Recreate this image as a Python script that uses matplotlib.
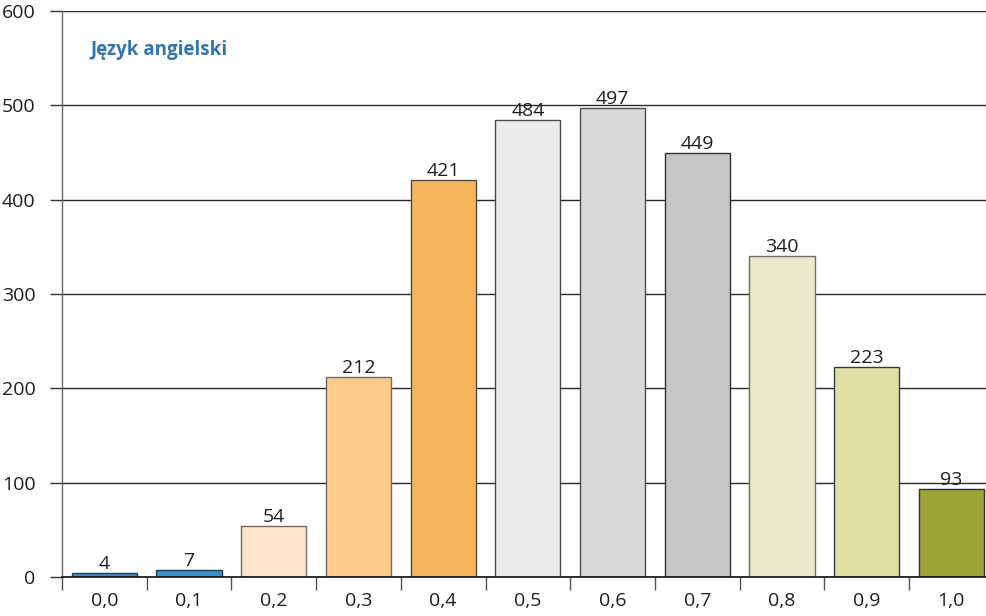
import matplotlib
matplotlib.use("Agg")
import matplotlib.pyplot as plt
from matplotlib.ticker import FixedLocator

categories = ["0,0", "0,1", "0,2", "0,3", "0,4", "0,5", "0,6", "0,7", "0,8", "0,9", "1,0"]
counts = [4, 7, 54, 212, 421, 484, 497, 449, 340, 223, 93]
bar_colors = ["#3a8ec9", "#3a8ec9", "#fde5c9", "#fbcb8c", "#f7b65d", "#eaecea",
              "#d8d9db", "#c5c6c8", "#e8e9ca", "#e0dfa6", "#9ba634"]
edge_colors = ["#1d3d5a", "#1d3d5a", "#6e6a64", "#6e6a64", "#4a4a4a", "#4a4a4a",
               "#4a4a4a", "#2e2e2e", "#6e6e6e", "#3a3a3a", "#2e2e2e"]
y_ticks = [0, 100, 200, 300, 400, 500, 600]
title = "Język angielski"

plt.rcParams["font.family"] = ["Open Sans", "DejaVu Sans"]

fig = plt.figure(figsize=(9.87, 6.16), dpi=100)
ax = fig.add_axes([62 / 987, 39 / 616, 931.7 / 987, 566 / 616])

x = list(range(len(categories)))
ax.bar(x, counts, width=0.77, color=bar_colors, edgecolor=edge_colors,
       linewidth=1.0, zorder=3)

for xi, v in zip(x, counts):
    ax.annotate(str(v), (xi, v), xytext=(0, 0), textcoords="offset points",
                ha="center", va="bottom", fontsize=14, color="#1e1e1e",
                zorder=4)

ax.set_xlim(-0.5, len(categories) - 0.5)
ax.set_ylim(0, 600)

ax.set_xticks(x)
ax.set_xticklabels(categories)
ax.xaxis.set_minor_locator(FixedLocator([i - 0.5 for i in range(len(categories) + 1)]))
ax.tick_params(axis="x", which="major", length=0, pad=11, labelsize=14,
               labelcolor="#1e1e1e")
ax.tick_params(axis="x", which="minor", length=9, width=1.0, color="#555555")

ax.set_yticks(y_ticks)
ax.tick_params(axis="y", length=9, width=1.0, color="#333333", pad=10,
               labelsize=14, labelcolor="#1e1e1e")

ax.yaxis.grid(True, color="#2a2a2a", linewidth=1.0, zorder=0)
ax.set_axisbelow(True)

for side in ("top", "right"):
    ax.spines[side].set_visible(False)
ax.spines["left"].set_color("#666666")
ax.spines["left"].set_linewidth(1.0)
ax.spines["bottom"].set_color("#111111")
ax.spines["bottom"].set_linewidth(1.2)
ax.spines["bottom"].set_zorder(5)

ax.text(90 / 987, 1 - 50 / 616, title, transform=fig.transFigure,
        fontsize=13.5, fontweight="bold", color="#3174ae", va="center", ha="left")

fig.savefig("out.png", dpi=100)
